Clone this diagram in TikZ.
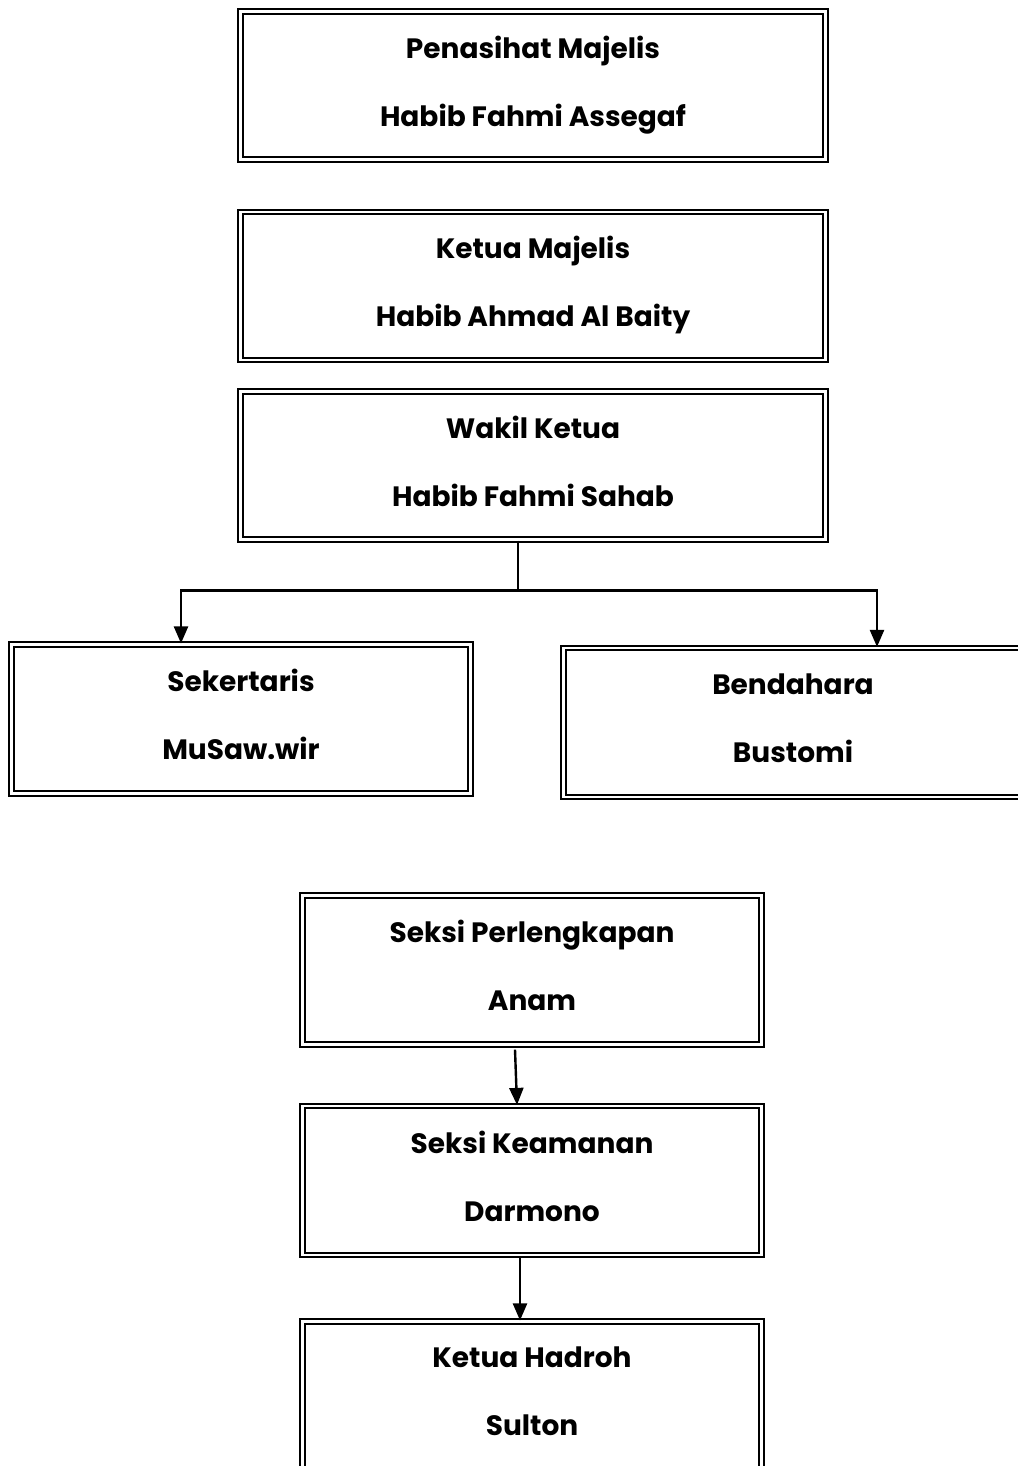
\documentclass[tikz,border=0pt]{standalone}
\usepackage{fontspec}
\setmainfont{Poppins}
\usetikzlibrary{arrows.meta}
\begin{document}
\begin{tikzpicture}
[
    x=1pt, y=-1pt,
    jabatan/.style={draw, double, line width=2.2pt, double distance=2.4pt, inner sep=0pt,
        align=center, font=\fontsize{28}{68}\selectfont\bfseries,
        execute at end node={\rule[-9pt]{0pt}{0pt}}},
    lebar/.style={minimum width=585pt, minimum height=148pt},
    sempit/.style={minimum width=459pt, minimum height=149pt},
    panah/.style={-{Triangle[length=17pt,width=14pt]}, line width=2.4pt},
]
\useasboundingbox (0,0) rectangle (1017,1466);
\node[jabatan, lebar] (penasihat) at (533,85.5) {Penasihat Majelis\\Habib Fahmi Assegaf};
\node[jabatan, lebar] (ketua) at (533,286) {Ketua Majelis\\Habib Ahmad Al Baity};
\node[jabatan, lebar] (wakil) at (533,465.5) {Wakil Ketua\\Habib Fahmi Sahab};
\node[jabatan, sempit] (sekretaris) at (241,719) {Sekertaris\\MuSaw.wir};
\node[jabatan, sempit] (bendahara) at (793,722.5) {Bendahara\\Bustomi};
\node[jabatan, sempit] (perlengkapan) at (532,970) {Seksi Perlengkapan\\Anam};
\node[jabatan, sempit] (keamanan) at (532,1180.5) {Seksi Keamanan\\Darmono};
\node[jabatan, sempit] (hadroh) at (532,1396) {Ketua Hadroh\\Sulton};
\draw[line width=1.2pt] ([xshift=-15pt]wakil.south) -- ++(0,50) coordinate (cabang);
\draw[panah] (cabang) -| ([xshift=-60pt]sekretaris.north);
\draw[panah] (cabang) -| ([xshift=84pt]bendahara.north);
\draw[panah] ([xshift=-17pt,yshift=-4pt]perlengkapan.south) -- ([xshift=-15pt]keamanan.north);
\draw[panah] ([xshift=-12pt,yshift=-2pt]keamanan.south) -- ([xshift=-12pt]hadroh.north);
\end{tikzpicture}
\end{document}
